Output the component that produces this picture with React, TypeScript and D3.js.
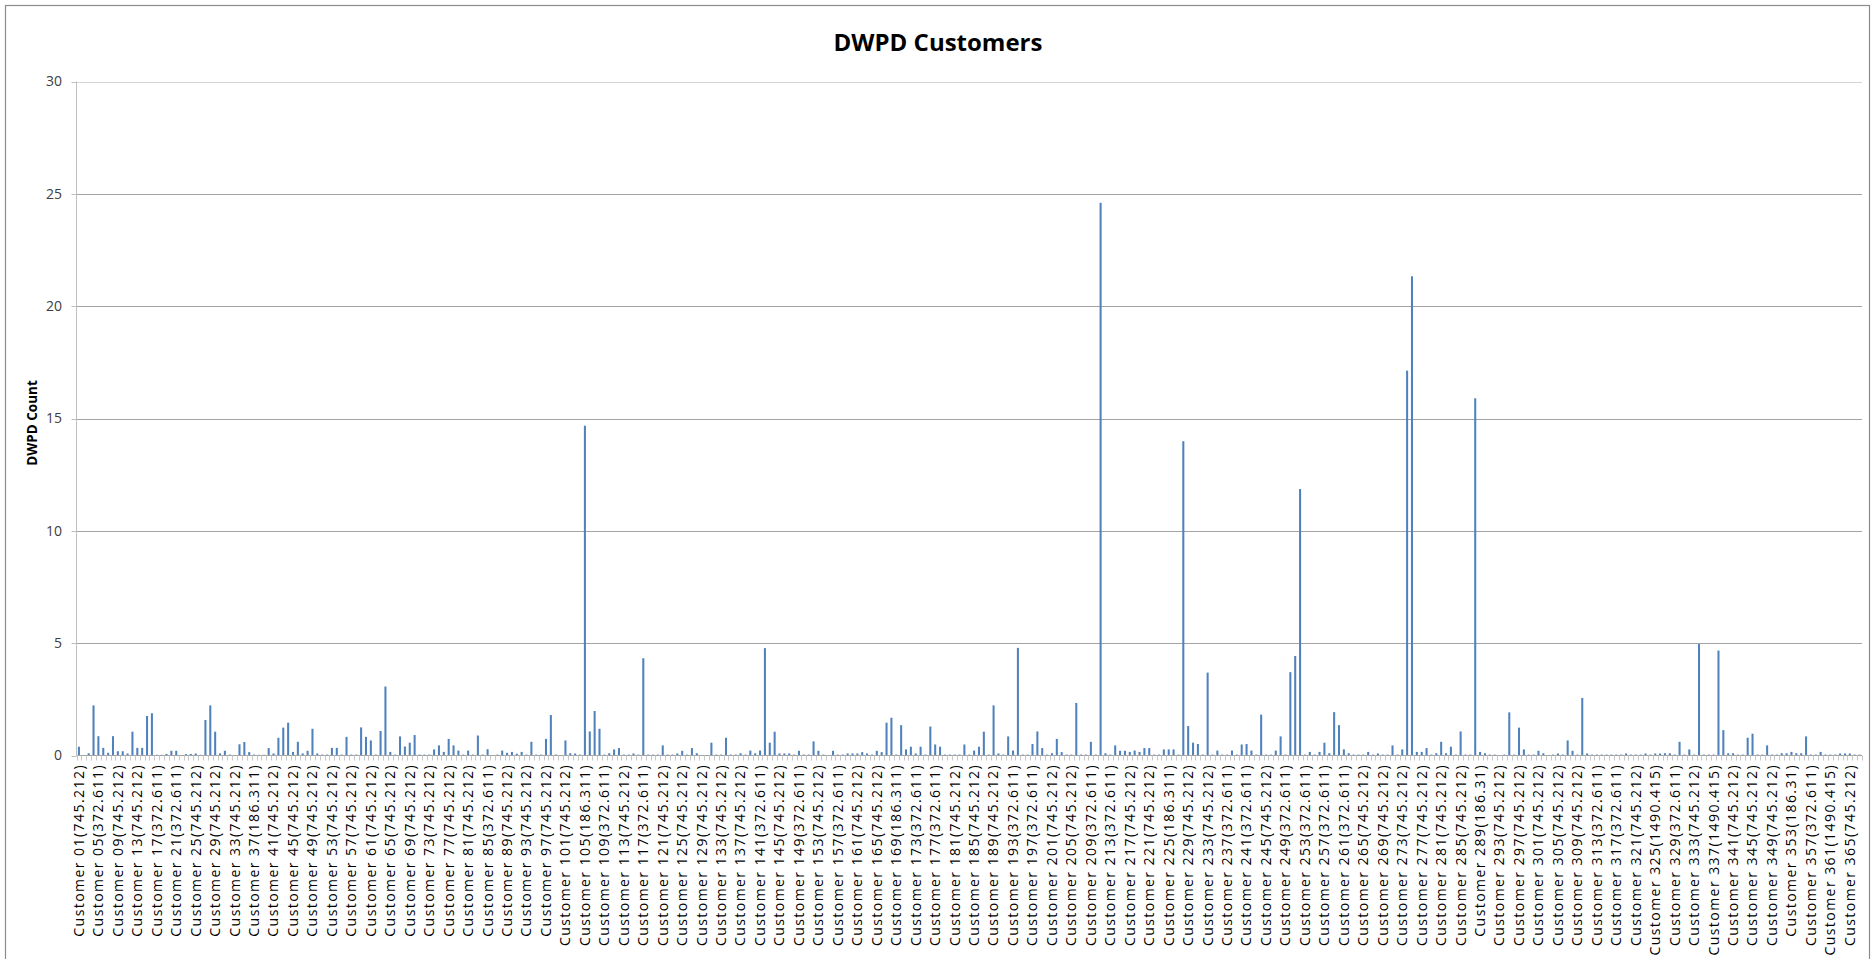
import React from 'react';
import * as d3 from 'd3';

// Customer tick labels (every fourth customer is labelled on the axis)
const tickLabels: string[] = [
  'Customer 01(745.212)', 'Customer 05(372.611)', 'Customer 09(745.212)', 'Customer 13(745.212)',
  'Customer 17(372.611)', 'Customer 21(372.611)', 'Customer 25(745.212)', 'Customer 29(745.212)',
  'Customer 33(745.212)', 'Customer 37(186.311)', 'Customer 41(745.212)', 'Customer 45(745.212)',
  'Customer 49(745.212)', 'Customer 53(745.212)', 'Customer 57(745.212)', 'Customer 61(745.212)',
  'Customer 65(745.212)', 'Customer 69(745.212)', 'Customer 73(745.212)', 'Customer 77(745.212)',
  'Customer 81(745.212)', 'Customer 85(372.611)', 'Customer 89(745.212)', 'Customer 93(745.212)',
  'Customer 97(745.212)', 'Customer 101(745.212)', 'Customer 105(186.311)', 'Customer 109(372.611)',
  'Customer 113(745.212)', 'Customer 117(372.611)', 'Customer 121(745.212)', 'Customer 125(745.212)',
  'Customer 129(745.212)', 'Customer 133(745.212)', 'Customer 137(745.212)', 'Customer 141(372.611)',
  'Customer 145(745.212)', 'Customer 149(372.611)', 'Customer 153(745.212)', 'Customer 157(372.611)',
  'Customer 161(745.212)', 'Customer 165(745.212)', 'Customer 169(186.311)', 'Customer 173(372.611)',
  'Customer 177(372.611)', 'Customer 181(745.212)', 'Customer 185(745.212)', 'Customer 189(745.212)',
  'Customer 193(372.611)', 'Customer 197(372.611)', 'Customer 201(745.212)', 'Customer 205(745.212)',
  'Customer 209(372.611)', 'Customer 213(372.611)', 'Customer 217(745.212)', 'Customer 221(745.212)',
  'Customer 225(186.311)', 'Customer 229(745.212)', 'Customer 233(745.212)', 'Customer 237(372.611)',
  'Customer 241(372.611)', 'Customer 245(745.212)', 'Customer 249(372.611)', 'Customer 253(372.611)',
  'Customer 257(372.611)', 'Customer 261(372.611)', 'Customer 265(745.212)', 'Customer 269(745.212)',
  'Customer 273(745.212)', 'Customer 277(745.212)', 'Customer 281(745.212)', 'Customer 285(745.212)',
  'Customer 289(186.31)', 'Customer 293(745.212)', 'Customer 297(745.212)', 'Customer 301(745.212)',
  'Customer 305(745.212)', 'Customer 309(745.212)', 'Customer 313(372.611)', 'Customer 317(372.611)',
  'Customer 321(745.212)', 'Customer 325(1490.415)', 'Customer 329(372.611)', 'Customer 333(745.212)',
  'Customer 337(1490.415)', 'Customer 341(745.212)', 'Customer 345(745.212)', 'Customer 349(745.212)',
  'Customer 353(186.31)', 'Customer 357(372.611)', 'Customer 361(1490.415)', 'Customer 365(745.212)',
];

// DWPD count per customer, in customer order
const dwpd: number[] = [
  0.39, 0.02, 0.1, 2.23, 0.86, 0.34, 0.12, 0.86, 0.19, 0.19,
  0.09, 1.06, 0.34, 0.34, 1.76, 1.88, 0.03, 0.03, 0.07, 0.21,
  0.21, 0.02, 0.06, 0.07, 0.09, 0.03, 1.58, 2.23, 1.06, 0.09,
  0.21, 0.04, 0.01, 0.5, 0.6, 0.15, 0.04, 0.03, 0.03, 0.33,
  0.09, 0.79, 1.24, 1.46, 0.16, 0.61, 0.09, 0.21, 1.19, 0.09,
  0.04, 0.04, 0.34, 0.34, 0.04, 0.83, 0.04, 0.04, 1.25, 0.83,
  0.67, 0.04, 1.09, 3.07, 0.16, 0.04, 0.85, 0.4, 0.57, 0.91,
  0.04, 0.04, 0.04, 0.27, 0.45, 0.16, 0.74, 0.45, 0.22, 0.04,
  0.22, 0.04, 0.89, 0.04, 0.28, 0.02, 0.04, 0.22, 0.12, 0.16,
  0.08, 0.16, 0.04, 0.61, 0.04, 0.04, 0.74, 1.8, 0.04, 0.01,
  0.67, 0.1, 0.09, 0.04, 14.68, 1.07, 1.98, 1.19, 0.04, 0.1,
  0.27, 0.33, 0.04, 0.04, 0.09, 0.04, 4.33, 0.04, 0.04, 0.04,
  0.45, 0.04, 0.04, 0.09, 0.21, 0.04, 0.33, 0.1, 0.01, 0.01,
  0.57, 0.04, 0.04, 0.79, 0.04, 0.04, 0.1, 0.04, 0.22, 0.1,
  0.22, 4.78, 0.57, 1.06, 0.09, 0.09, 0.09, 0.04, 0.21, 0.04,
  0.04, 0.63, 0.21, 0.04, 0.01, 0.21, 0.04, 0.04, 0.09, 0.09,
  0.09, 0.15, 0.09, 0.04, 0.21, 0.15, 1.46, 1.68, 0.04, 1.35,
  0.27, 0.39, 0.09, 0.39, 0.04, 1.29, 0.49, 0.39, 0.04, 0.04,
  0.04, 0.04, 0.49, 0.04, 0.22, 0.39, 1.06, 0.04, 2.23, 0.09,
  0.04, 0.85, 0.22, 4.79, 0.04, 0.04, 0.51, 1.07, 0.33, 0.04,
  0.1, 0.74, 0.15, 0.04, 0.04, 2.34, 0.04, 0.04, 0.61, 0.04,
  24.6, 0.1, 0.04, 0.45, 0.21, 0.21, 0.16, 0.22, 0.16, 0.33,
  0.33, 0.04, 0.04, 0.27, 0.27, 0.27, 0.04, 13.99, 1.31, 0.57,
  0.51, 0.04, 3.69, 0.04, 0.22, 0.04, 0.04, 0.22, 0.04, 0.49,
  0.51, 0.22, 0.04, 1.82, 0.04, 0.04, 0.22, 0.85, 0.04, 3.71,
  4.43, 11.86, 0.04, 0.16, 0.04, 0.16, 0.57, 0.1, 1.93, 1.35,
  0.27, 0.1, 0.04, 0.04, 0.04, 0.16, 0.04, 0.09, 0.04, 0.04,
  0.45, 0.04, 0.27, 17.13, 21.33, 0.16, 0.16, 0.33, 0.04, 0.1,
  0.61, 0.1, 0.39, 0.04, 1.07, 0.04, 0.04, 15.9, 0.16, 0.1,
  0.04, 0.04, 0.01, 0.04, 1.92, 0.04, 1.24, 0.27, 0.04, 0.04,
  0.21, 0.1, 0.01, 0.04, 0.09, 0.04, 0.67, 0.21, 0.04, 2.56,
  0.09, 0.04, 0.04, 0.04, 0.04, 0.04, 0.04, 0.04, 0.09, 0.04,
  0.04, 0.04, 0.09, 0.04, 0.09, 0.09, 0.1, 0.1, 0.04, 0.61,
  0.04, 0.27, 0.04, 4.96, 0.04, 0.04, 0.04, 4.67, 1.13, 0.1,
  0.1, 0.04, 0.04, 0.79, 0.97, 0.04, 0.04, 0.45, 0.04, 0.04,
  0.1, 0.1, 0.16, 0.1, 0.1, 0.85, 0.04, 0.04, 0.16, 0.04,
  0.04, 0.04, 0.09, 0.09, 0.09, 0.04, 0.04,
];

const yTicks: number[] = [0, 5, 10, 15, 20, 25, 30];

const W = 1874;
const H = 959;
const plotLeft = 76.5;
const plotRight = 1862;
const plotTop = 81.5;
const plotBottom = 755.5;
const labelFont = '"Open Sans", "Liberation Sans", sans-serif';

export default function App() {
  const idx = d3.range(dwpd.length);
  const x = d3
    .scaleBand<number>()
    .domain(idx)
    .range([plotLeft, plotRight])
    .paddingInner(0.58)
    .paddingOuter(0.29);
  const y = d3.scaleLinear().domain([0, 30]).range([plotBottom, plotTop]);
  const step = x.step();
  const bw = x.bandwidth();
  const center = (i: number) => (x(i) as number) + bw / 2;

  return (
    <svg
      width={W}
      height={H}
      style={{ position: 'absolute', left: 0, top: 0, background: '#fff' }}
      fontFamily={labelFont}
    >
      <rect x={5.5} y={5.5} width={1864} height={1000} fill="#fff" stroke="#8c8c8c" strokeWidth={1.2} />

      <text
        x={938}
        y={51}
        textAnchor="middle"
        fontSize={24}
        fontWeight="bold"
        fill="#000"
      >
        DWPD Customers
      </text>

      {/* horizontal gridlines and y ticks */}
      {yTicks.map((t) => (
        <g key={t}>
          {t > 0 && (
            <line
              x1={plotLeft}
              x2={plotRight}
              y1={Math.round(y(t)) + 0.5}
              y2={Math.round(y(t)) + 0.5}
              stroke={t === 30 ? '#d4d4d4' : '#a3a3a3'}
              strokeWidth={1}
            />
          )}
          <line
            x1={plotLeft - 5}
            x2={plotLeft}
            y1={Math.round(y(t)) + 0.5}
            y2={Math.round(y(t)) + 0.5}
            stroke="#bfbfbf"
          />
          <text
            x={62}
            y={y(t)}
            dy="0.35em"
            textAnchor="end"
            fontSize={14}
            fill="#404040"
          >
            {t}
          </text>
        </g>
      ))}

      {/* y axis */}
      <line x1={plotLeft} x2={plotLeft} y1={plotTop} y2={plotBottom} stroke="#bfbfbf" />

      <text
        transform={`translate(37, 423) rotate(-90)`}
        textAnchor="middle"
        fontSize={13.5}
        fontWeight="bold"
        fill="#000"
      >
        DWPD Count
      </text>

      {/* bars */}
      {idx.map((i) => (
        <rect
          key={i}
          x={x(i)}
          y={y(dwpd[i])}
          width={bw}
          height={y(0) - y(dwpd[i])}
          fill="#4f81bd"
        />
      ))}

      {/* x axis baseline and category ticks */}
      <line x1={plotLeft} x2={plotRight} y1={plotBottom} y2={plotBottom} stroke="#a3a3a3" />
      {d3.range(dwpd.length + 1).map((k) => (
        <line
          key={k}
          x1={Math.round(plotLeft + k * step) + 0.5}
          x2={Math.round(plotLeft + k * step) + 0.5}
          y1={plotBottom}
          y2={plotBottom + 5}
          stroke="#c8c8c8"
        />
      ))}

      {/* category labels */}
      {tickLabels.map((lab, k) => {
        const cx = center(k * 4);
        return (
          <text
            key={lab}
            transform={`translate(${cx}, 764) rotate(-90)`}
            dy="0.35em"
            textAnchor="end"
            fontSize={14}
            letterSpacing={1.45}
            fill="#000"
          >
            {lab}
          </text>
        );
      })}
    </svg>
  );
}
